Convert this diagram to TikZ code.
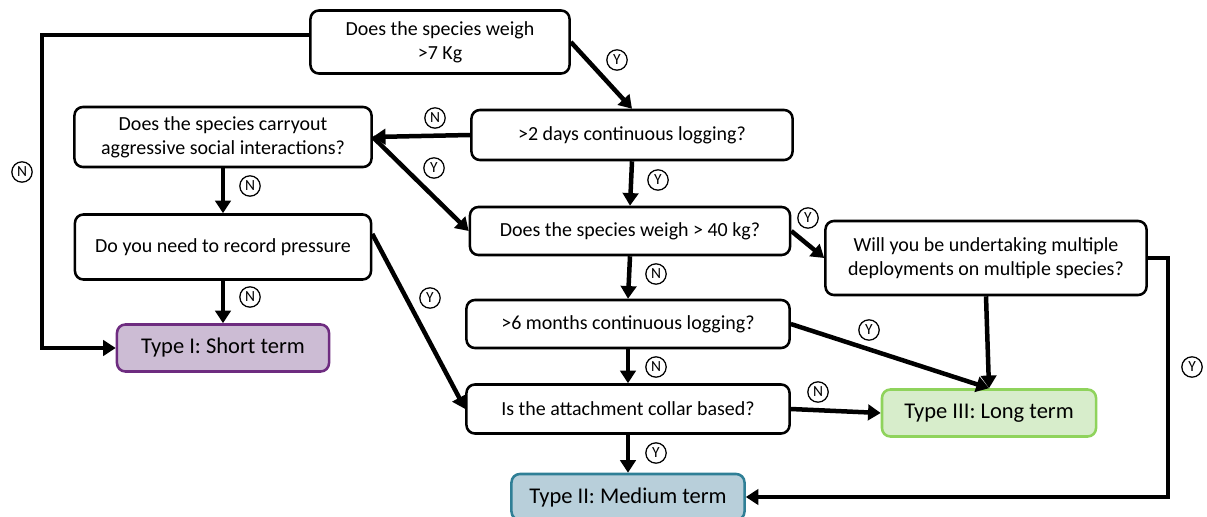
\documentclass[tikz,border=0pt]{standalone}
\usepackage{fontspec}
\setmainfont{Carlito}
\usetikzlibrary{arrows.meta}
\definecolor{shortfill}{HTML}{CCBCD4}
\definecolor{shortline}{HTML}{6E2C80}
\definecolor{mediumfill}{HTML}{B8CFDA}
\definecolor{mediumline}{HTML}{2F7F96}
\definecolor{longfill}{HTML}{D7EDCB}
\definecolor{longline}{HTML}{8FD35C}
\begin{document}
\begin{tikzpicture}[x=0.025cm, y=-0.025cm,
    question/.style={draw, line width=1.8pt, rounded corners=6pt, fill=white, align=center,
      font=\fontsize{14.2}{17}\selectfont},
    result/.style={draw, line width=1.8pt, rounded corners=6pt,
      font=\fontsize{16}{19}\selectfont},
    flow/.style={line width=3.2pt, -{Triangle[length=9pt, width=11pt]}},
    yn/.style={draw, circle, line width=0.9pt, inner sep=0.3pt, minimum size=14.5pt,
      font=\fontsize{11}{13}\selectfont}]
  \useasboundingbox (0,0) rectangle (1207,517);

  \node[question, minimum width=6.475cm, minimum height=1.575cm] (q7kg) at (440,42) {Does the species weigh\\>7 Kg};
  \node[question, minimum width=8.025cm, minimum height=1.25cm] (q2days) at (632,135) {>2 days continuous logging?};
  \node[question, minimum width=7.425cm, minimum height=1.5cm] (qaggr) at (223,137) {Does the species carryout\\aggressive social interactions?};
  \node[question, minimum width=7.4cm, minimum height=1.625cm] (qpress) at (223,247) {Do you need to record pressure};
  \node[question, minimum width=8cm, minimum height=1.2cm] (q40) at (630,231) {Does the species weigh > 40 kg?};
  \node[question, minimum width=8.025cm, minimum height=1.85cm] (qmulti) at (986,258) {Will you be undertaking multiple\\deployments on multiple species?};
  \node[question, minimum width=8.075cm, minimum height=1.2cm] (q6mo) at (628,324) {>6 months continuous logging?};
  \node[question, minimum width=8.075cm, minimum height=1.225cm] (qcollar) at (628,409) {Is the attachment collar based?};

  \node[result, fill=shortfill, draw=shortline, minimum width=5.3cm, minimum height=1.175cm] (tshort) at (223,348) {Type I: Short term};
  \node[result, fill=longfill, draw=longline, minimum width=5.35cm, minimum height=1.175cm] (tlong) at (989,413) {Type III: Long term};
  \node[result, fill=mediumfill, draw=mediumline, minimum width=5.825cm, minimum height=1.15cm] (tmedium) at (628,497) {Type II: Medium term};

  \coordinate (nbend) at (42,348);
  \coordinate (ybend) at (1168,497);

  \draw[flow] (q7kg.177) -| (nbend) -- (tshort.west);
  \draw[flow] (q7kg.east) -- (q2days.north);
  \draw[flow] (q2days.west) -- (qaggr.east);
  \draw[flow] (qaggr.east) -- (q40.west);
  \draw[flow] (q2days.south) -- (q40.north);
  \draw[flow] (qaggr.south) -- (qpress.north);
  \draw[flow] (qpress.south) -- (tshort.north);
  \draw[flow] (qpress.5) -- (qcollar.west);
  \draw[flow] (q40.east) -- (qmulti.west);
  \draw[flow] (q40.south) -- (q6mo.north);
  \draw[flow] (q6mo.east) -- (tlong.north);
  \draw[flow] (qmulti.south) -- (tlong.north);
  \draw[flow] (q6mo.south) -- (qcollar.north);
  \draw[flow] (qcollar.east) -- (tlong.west);
  \draw[flow] (qcollar.south) -- (tmedium.north);
  \draw[flow] (qmulti.east) -| (ybend) -- (tmedium.east);

  \foreach \lx/\ly/\lt [count=\i] in {22/172/N, 617/60/Y, 435/118/N, 434/168/Y, 658/180/Y,
      250/186/N, 250/297/N, 430/298/Y, 808/218/Y, 656/274/N, 869/330/Y, 656/367/N,
      818/392/N, 656/453/Y, 1192/367/Y}
    \node[yn] (yn\i) at (\lx,\ly) {\lt};
\end{tikzpicture}
\end{document}
